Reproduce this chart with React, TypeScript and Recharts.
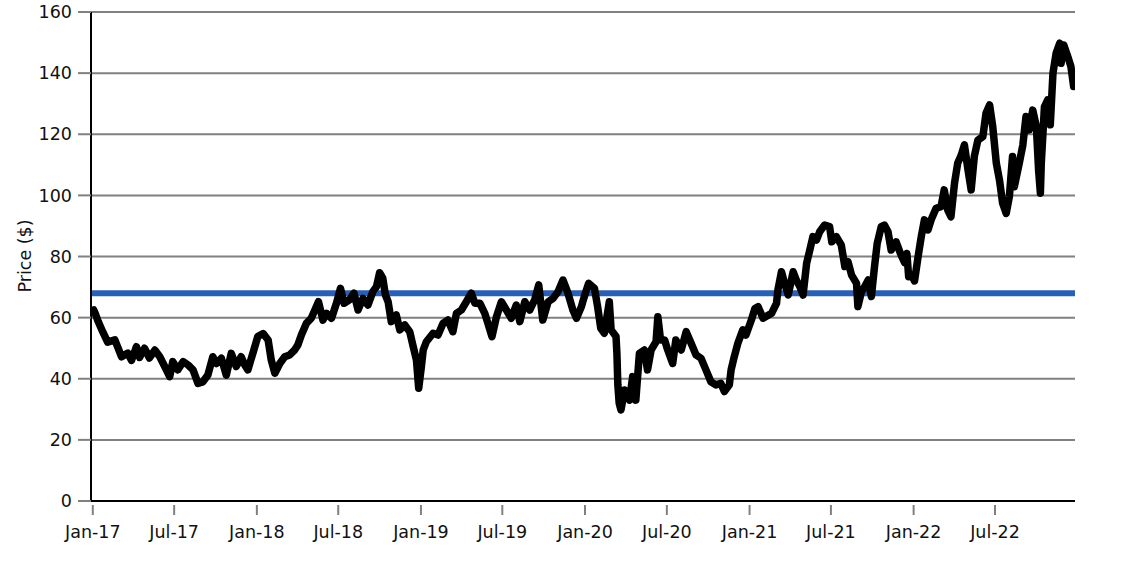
import React from "react";
import { LineChart, Line, XAxis, YAxis, CartesianGrid, ReferenceLine } from "recharts";

const dates: string[] = [
  "2017-01-03","2017-01-06","2017-01-13","2017-01-23","2017-02-03","2017-02-19","2017-02-25","2017-03-06","2017-03-20","2017-03-28",
  "2017-04-08","2017-04-15","2017-04-26","2017-05-07","2017-05-19","2017-05-30","2017-06-10","2017-06-21","2017-06-28","2017-07-09",
  "2017-07-21","2017-08-01","2017-08-12","2017-08-23","2017-09-03","2017-09-14","2017-09-25","2017-10-03","2017-10-14","2017-10-25",
  "2017-11-05","2017-11-16","2017-11-27","2017-12-05","2017-12-12","2017-12-23",
  "2018-01-03","2018-01-15","2018-01-26","2018-02-02","2018-02-10","2018-02-21","2018-03-04","2018-03-15","2018-03-26","2018-04-02",
  "2018-04-10","2018-04-21","2018-05-02","2018-05-10","2018-05-18","2018-05-28","2018-06-05","2018-06-16","2018-06-27","2018-07-06",
  "2018-07-14","2018-07-26","2018-08-05","2018-08-14","2018-08-25","2018-09-05","2018-09-16","2018-09-24","2018-10-01","2018-10-08",
  "2018-10-14","2018-10-20","2018-10-27","2018-11-07","2018-11-15","2018-11-26","2018-12-07","2018-12-14","2018-12-22","2018-12-27",
  "2019-01-02","2019-01-06","2019-01-13","2019-01-28","2019-02-08","2019-02-19","2019-03-02","2019-03-13","2019-03-21","2019-04-01",
  "2019-04-12","2019-04-23","2019-05-01","2019-05-12","2019-05-23","2019-05-30","2019-06-08","2019-06-18","2019-06-29","2019-07-10",
  "2019-07-21","2019-08-01","2019-08-09","2019-08-20","2019-08-31","2019-09-11","2019-09-20","2019-09-29","2019-10-11","2019-10-22",
  "2019-11-02","2019-11-13","2019-11-24","2019-12-05","2019-12-13","2019-12-24","2019-12-27",
  "2020-01-04","2020-01-09","2020-01-22","2020-01-29","2020-02-05","2020-02-13","2020-02-24","2020-02-28","2020-03-10","2020-03-12",
  "2020-03-14","2020-03-17","2020-03-21","2020-03-29","2020-04-09","2020-04-16","2020-04-23","2020-05-01","2020-05-12","2020-05-19",
  "2020-05-27","2020-06-07","2020-06-11","2020-06-17","2020-06-26","2020-07-03","2020-07-14","2020-07-21","2020-08-02","2020-08-13",
  "2020-08-24","2020-09-04","2020-09-15","2020-09-26","2020-10-07","2020-10-18","2020-10-29","2020-11-06","2020-11-17","2020-11-21",
  "2020-11-28","2020-12-06","2020-12-17","2020-12-24",
  "2021-01-05","2021-01-13","2021-01-20","2021-01-31","2021-02-19","2021-03-02","2021-03-05","2021-03-13","2021-03-20","2021-03-28",
  "2021-04-08","2021-04-15","2021-04-23","2021-04-30","2021-05-08","2021-05-15","2021-05-22","2021-05-30","2021-06-06","2021-06-17",
  "2021-06-28","2021-07-03","2021-07-13","2021-07-24","2021-08-01","2021-08-08","2021-08-16","2021-08-27","2021-08-30","2021-09-07",
  "2021-09-14","2021-09-22","2021-09-29","2021-10-06","2021-10-12","2021-10-21","2021-10-28","2021-11-05","2021-11-12","2021-11-23",
  "2021-12-04","2021-12-12","2021-12-17","2021-12-21","2021-12-27",
  "2022-01-03","2022-01-11","2022-01-18","2022-01-25","2022-02-02","2022-02-09","2022-02-20","2022-03-03","2022-03-10","2022-03-18",
  "2022-03-25","2022-04-02","2022-04-09","2022-04-17","2022-04-24","2022-05-02","2022-05-09","2022-05-16","2022-05-24","2022-06-04",
  "2022-06-11","2022-06-19","2022-06-26","2022-07-04","2022-07-11","2022-07-18","2022-07-26","2022-08-02","2022-08-09","2022-08-13",
  "2022-08-24","2022-09-01","2022-09-08","2022-09-15","2022-09-23","2022-10-01","2022-10-06","2022-10-10","2022-10-12","2022-10-19",
  "2022-10-26","2022-11-01","2022-11-07","2022-11-14","2022-11-22","2022-11-25","2022-12-01","2022-12-10","2022-12-17","2022-12-23",
];

const prices: number[] = [
  62.5,61.5,58.7,55.4,52,52.7,50.5,47.2,48.4,46,
  50.5,47,50,46.8,49.4,47.2,44,40.7,45.6,42.9,
  45.6,44.5,42.9,38.5,39,41.2,47.2,45,46.7,41.2,
  48.3,44,47.2,44.5,42.9,48.3,
  53.8,54.8,52.7,46.1,41.8,45,47.2,47.8,49.4,51,
  54.3,58.1,59.8,62.5,65.2,59.2,61.4,59.8,64.7,69.6,
  64.7,65.8,68,62.5,66.3,64.1,68.5,70.1,74.7,72.9,
  67.4,65.2,58.7,60.9,56,57.6,55.4,51,46.1,36.9,
  44,49.4,52.1,54.9,54.3,58.1,59.2,55.4,61.4,62.5,
  65.2,68,64.7,64.7,61.4,58.1,53.8,60.3,65.2,62.5,
  59.8,64.1,58.7,65.2,62.5,65.8,70.7,59.2,65.2,66.3,
  68.5,72.3,68,62.5,59.8,63.6,65.2,
  69,71.2,69.6,63.6,56.5,54.9,65.2,56,53.8,48,
  38,32,29.8,36.3,33,40.7,33,48.3,49.4,42.9,
  49.4,52.1,60.3,52.7,52.7,49.4,45,52.7,49.4,55.4,
  51.6,47.8,46.7,42.9,39,38,38.5,35.8,38,42.9,
  47.2,51.6,56,54.3,
  59.2,63,63.6,59.8,61.4,64.7,69,75,71.2,67.4,
  75,72.3,70.1,67.4,77.8,82.1,86.5,85.4,88.1,90.3,
  89.8,84.8,86.5,83.8,76.7,78.3,73.9,71.2,63.6,68.5,
  70.1,72.3,66.9,76.7,84.3,89.8,90.3,88.1,82.1,84.8,
  80.5,78,81,73.4,74,
  72,80,86.5,92,88.7,92,95.8,96.3,101.8,95.2,
  93,104,110.5,113.2,116.5,108.3,101.8,112.7,118.1,119.2,
  126.9,129.6,122.5,110.5,105,97.4,94.1,99.6,112.7,102.8,
  110.5,116.5,125.8,121.4,127.9,122.5,108.3,100.7,110.5,129,
  131.2,123.1,140,146.5,149.8,143.2,149.2,145.4,142.1,135.6,
];

const averagePrice = 68;
const tickDates = [
  "2017-01-01","2017-07-01","2018-01-01","2018-07-01","2019-01-01","2019-07-01",
  "2020-01-01","2020-07-01","2021-01-01","2021-07-01","2022-01-01","2022-07-01",
];
const tickLabels = [
  "Jan-17","Jul-17","Jan-18","Jul-18","Jan-19","Jul-19",
  "Jan-20","Jul-20","Jan-21","Jul-21","Jan-22","Jul-22",
];
const yTicks = [0, 20, 40, 60, 80, 100, 120, 140, 160];
const xDomainDates = ["2016-12-28", "2022-12-26"];

const DAY = 86400000;
const BASE = Date.UTC(2017, 0, 1);
const dayIndex = (s: string) => {
  const [y, m, d] = s.split("-").map(Number);
  return (Date.UTC(y, m - 1, d) - BASE) / DAY;
};

const data = dates.map((d, i) => ({ t: dayIndex(d), price: prices[i] }));
const xTicks = tickDates.map(dayIndex);
const labelFor = (v: number) => {
  const i = xTicks.indexOf(v);
  return i >= 0 ? tickLabels[i] : "";
};

const FONT = "'DejaVu Sans', Verdana, sans-serif";

const XTick = (props: any) => {
  const { x, y, payload } = props;
  return (
    <g>
      <line x1={x} x2={x} y1={y - 10} y2={y} stroke="#808080" strokeWidth={2} />
      <text x={x} y={y + 23} textAnchor="middle" fontFamily={FONT} fontSize={17.5} fill="#111">
        {labelFor(payload.value)}
      </text>
    </g>
  );
};

const YLabel = () => (
  <text
    x={25}
    y={256}
    transform="rotate(-90 25 256)"
    textAnchor="middle"
    dominantBaseline="central"
    fontFamily={FONT}
    fontSize={17.5}
    fill="#111"
  >
    Price ($)
  </text>
);

export default function App() {
  return (
    <div style={{ position: "absolute", left: 0, top: 0, width: 1146, height: 573, background: "#fff" }}>
      <LineChart
        width={1146}
        height={573}
        data={data}
        margin={{ top: 12, right: 71, bottom: 22, left: 0 }}
      >
        <CartesianGrid vertical={false} stroke="#808080" strokeWidth={2} />
        <XAxis
          dataKey="t"
          type="number"
          domain={[dayIndex(xDomainDates[0]), dayIndex(xDomainDates[1])]}
          ticks={xTicks}
          interval={0}
          height={50}
          tickLine={false}
          tickSize={14}
          tickMargin={0}
          axisLine={{ stroke: "#000", strokeWidth: 2 }}
          tick={<XTick />}
          allowDataOverflow
        />
        <YAxis
          type="number"
          domain={[0, 160]}
          ticks={yTicks}
          interval={0}
          width={91}
          tickSize={13}
          tickMargin={6}
          tickLine={{ stroke: "#808080", strokeWidth: 2 }}
          axisLine={{ stroke: "#000", strokeWidth: 2 }}
          tick={{ fontFamily: FONT, fontSize: 17.5, fill: "#111" }}
          label={<YLabel />}
        />
        <ReferenceLine y={averagePrice} stroke="#2b5fb3" strokeWidth={6} />
        <Line
          type="linear"
          dataKey="price"
          stroke="#000"
          strokeWidth={7.5}
          strokeLinejoin="round"
          strokeLinecap="round"
          dot={false}
          isAnimationActive={false}
        />
      </LineChart>
    </div>
  );
}
